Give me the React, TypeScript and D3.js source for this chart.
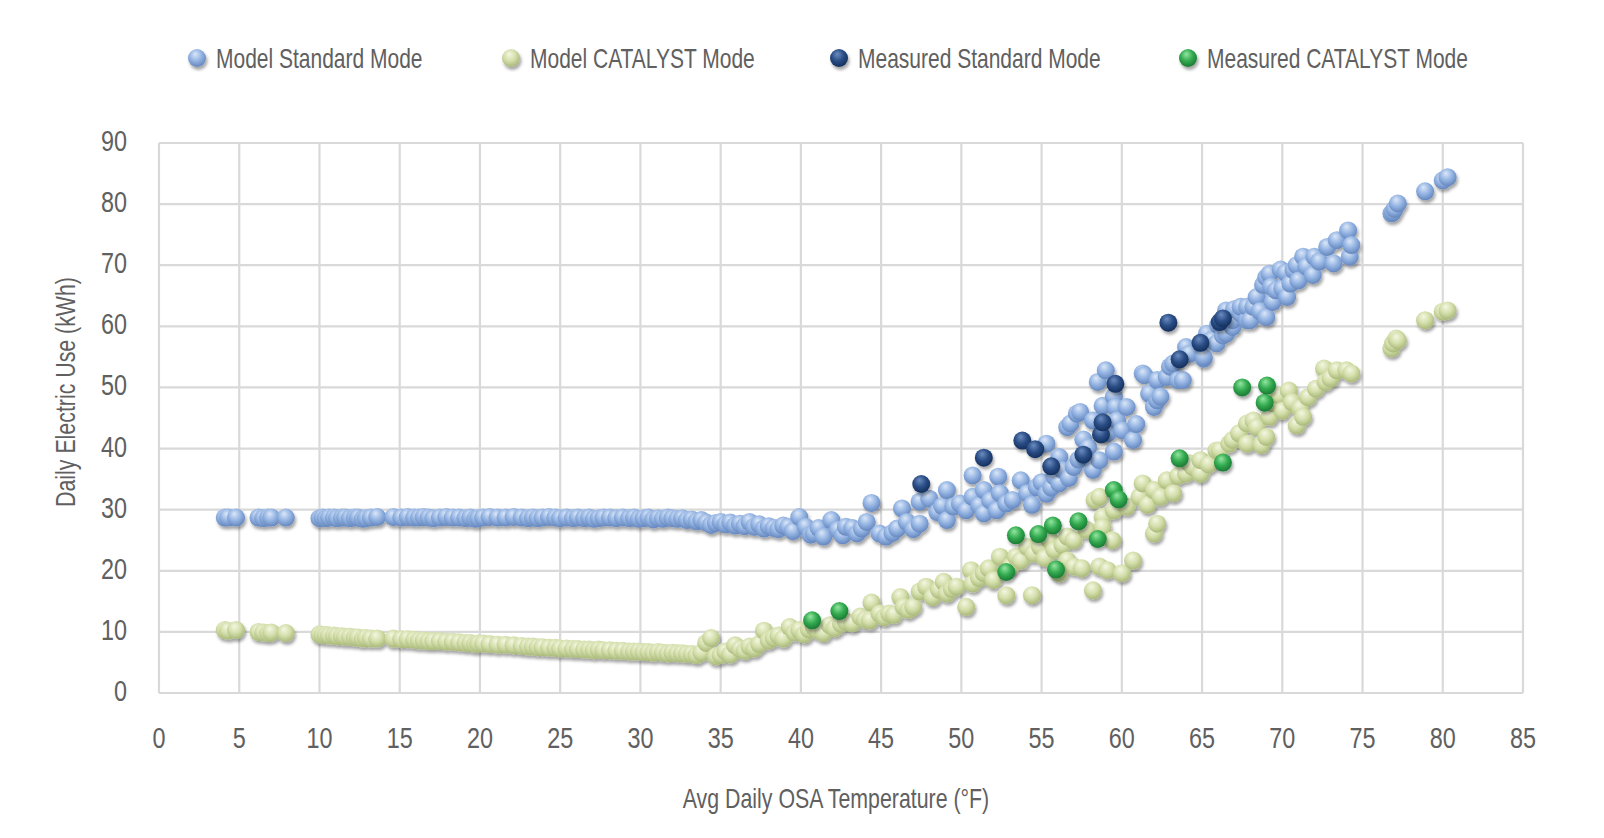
import * as d3 from "d3";

// [Avg daily OSA temperature (°F), daily electric use (kWh)]
const modelStandard: [number, number][] = [
  [4.1, 28.7], [4.3, 28.7], [4.8, 28.7], [6.2, 28.7], [6.5, 28.6], [6.8, 28.7], [7.0, 28.7], [7.9, 28.7],
  [10.0, 28.6], [10.2, 28.7], [10.4, 28.6], [10.6, 28.7], [10.9, 28.7], [11.1, 28.6], [11.4, 28.7], [11.6, 28.7],
  [11.9, 28.6], [12.2, 28.7], [12.4, 28.7], [12.7, 28.5], [12.9, 28.6], [13.2, 28.7], [13.6, 28.8],
  [14.6, 28.8], [15.1, 28.7], [15.5, 28.8], [15.9, 28.7], [16.2, 28.7], [16.5, 28.8], [16.8, 28.7], [17.1, 28.6],
  [17.5, 28.7], [17.9, 28.8], [18.3, 28.7], [18.7, 28.7], [19.1, 28.6], [19.4, 28.7], [19.7, 28.5], [19.9, 28.6],
  [20.2, 28.7], [20.6, 28.8], [21.1, 28.7], [21.6, 28.7], [22.1, 28.8], [22.6, 28.7], [23.0, 28.6], [23.3, 28.7],
  [23.6, 28.6], [23.9, 28.7], [24.3, 28.8], [24.7, 28.7], [25.0, 28.6], [25.4, 28.7], [25.8, 28.6], [26.1, 28.7],
  [26.5, 28.6], [26.8, 28.7], [27.1, 28.5], [27.4, 28.6], [27.7, 28.7], [28.1, 28.7], [28.5, 28.6], [28.9, 28.7],
  [29.3, 28.6], [29.6, 28.7], [29.9, 28.5], [30.2, 28.6], [30.5, 28.7], [30.8, 28.4], [31.1, 28.6], [31.4, 28.5],
  [31.7, 28.7], [32.0, 28.6], [32.3, 28.5], [32.6, 28.6], [32.9, 28.3], [33.2, 28.4], [33.5, 28.1], [33.8, 28.3],
  [34.1, 27.9], [34.4, 27.5], [34.7, 27.8], [35.0, 28.0], [35.3, 27.6], [35.6, 27.9], [35.9, 27.4], [36.2, 27.7],
  [36.5, 27.3], [36.8, 28.0], [37.1, 27.2], [37.4, 27.6], [37.7, 26.9], [38.0, 27.3], [38.3, 27.0], [38.6, 26.8],
  [38.9, 27.4], [39.2, 27.2], [39.5, 26.5], [39.9, 28.8], [40.3, 27.2], [40.6, 25.9], [40.8, 26.1], [41.1, 27.0],
  [41.4, 25.6], [41.9, 28.3], [42.3, 26.7], [42.6, 25.8], [42.8, 27.2], [43.2, 27.0], [43.5, 26.1], [43.8, 26.9],
  [44.1, 28.0], [44.4, 31.1], [44.9, 26.1], [45.3, 25.6], [45.7, 26.2], [46.0, 26.9], [46.3, 30.2], [46.6, 28.0],
  [47.0, 26.8], [47.4, 27.7], [47.4, 31.3], [48.0, 31.8], [48.5, 29.6], [48.8, 30.6], [49.1, 33.2], [49.1, 28.3],
  [49.5, 30.5], [49.9, 31.0], [50.3, 29.9], [50.7, 35.6], [50.7, 32.1], [51.1, 30.7], [51.4, 29.4], [51.4, 33.2],
  [51.8, 31.5], [52.2, 29.9], [52.3, 35.4], [52.4, 32.7], [52.8, 31.0], [53.2, 31.6], [53.7, 34.8], [54.1, 32.7],
  [54.4, 30.8], [54.7, 33.7], [55.0, 34.5], [55.3, 40.8], [55.3, 32.6], [55.6, 33.6], [55.8, 35.4], [56.1, 34.3],
  [56.1, 38.6], [56.3, 36.5], [56.6, 43.5], [56.7, 35.2], [56.8, 44.1], [57.0, 37.0], [57.2, 45.7], [57.3, 38.2],
  [57.4, 46.0], [57.6, 41.5], [57.9, 40.2], [58.2, 36.5], [58.2, 44.6], [58.5, 50.9], [58.6, 38.1], [58.8, 47.0],
  [59.0, 52.8], [59.1, 42.5], [59.5, 48.5], [59.5, 39.5], [59.6, 46.8], [59.7, 44.6], [60.0, 43.0], [60.3, 46.8],
  [60.7, 41.4], [60.9, 44.0], [61.3, 52.3], [61.4, 52.0], [61.7, 49.0], [62.0, 46.8], [62.2, 47.9], [62.2, 51.2],
  [62.4, 48.5], [62.8, 51.7], [63.0, 53.4], [63.2, 53.9], [63.5, 51.2], [63.8, 51.2], [64.0, 56.6], [64.2, 55.5],
  [65.1, 54.7], [65.1, 55.0], [65.3, 58.8], [65.6, 57.8], [65.9, 57.2], [66.0, 60.2], [66.3, 58.5], [66.5, 58.8],
  [66.5, 62.6], [66.9, 59.9], [66.9, 61.0], [67.0, 62.8], [67.4, 62.1], [67.4, 63.2], [67.8, 61.0], [67.8, 63.2],
  [68.0, 61.0], [68.2, 63.2], [68.4, 64.8], [68.6, 62.5], [68.8, 66.8], [69.0, 61.5], [69.0, 68.0], [69.2, 68.6],
  [69.3, 66.5], [69.4, 64.0], [69.6, 65.9], [69.9, 69.3], [70.0, 66.2], [70.2, 68.8], [70.3, 64.8], [70.5, 67.0],
  [70.7, 69.2], [70.9, 70.0], [71.0, 67.5], [71.3, 71.4], [71.5, 69.8], [71.9, 68.4], [72.0, 71.4], [72.3, 70.6],
  [72.8, 73.0], [73.2, 70.3], [73.4, 74.1], [74.1, 75.7], [74.2, 71.4], [74.3, 73.3], [76.8, 78.5], [76.9, 78.7],
  [77.0, 79.2], [77.2, 80.1], [78.9, 82.1], [80.0, 83.9], [80.3, 84.4],
];

const modelCatalyst: [number, number][] = [
  [4.1, 10.3], [4.3, 10.2], [4.8, 10.3], [6.2, 10.0], [6.5, 9.9], [6.8, 9.8], [7.0, 9.9], [7.9, 9.8],
  [10.0, 9.6], [10.2, 9.5], [10.4, 9.5], [10.6, 9.4], [10.9, 9.4], [11.1, 9.3], [11.4, 9.3], [11.6, 9.2],
  [11.9, 9.2], [12.2, 9.1], [12.4, 9.1], [12.7, 8.9], [12.9, 9.0], [13.2, 8.9], [13.6, 8.9],
  [14.6, 8.9], [15.1, 8.8], [15.5, 8.8], [15.9, 8.7], [16.2, 8.6], [16.5, 8.6], [16.8, 8.5], [17.1, 8.5],
  [17.5, 8.5], [17.9, 8.4], [18.3, 8.4], [18.7, 8.3], [19.1, 8.2], [19.4, 8.2], [19.7, 8.0], [19.9, 8.1],
  [20.2, 8.1], [20.6, 8.0], [21.1, 7.9], [21.6, 7.9], [22.1, 7.8], [22.6, 7.7], [23.0, 7.6], [23.3, 7.6],
  [23.6, 7.5], [23.9, 7.5], [24.3, 7.4], [24.7, 7.4], [25.0, 7.3], [25.4, 7.3], [25.8, 7.2], [26.1, 7.2],
  [26.5, 7.1], [26.8, 7.1], [27.1, 7.0], [27.4, 7.1], [27.7, 7.0], [28.1, 7.0], [28.5, 6.9], [28.9, 6.9],
  [29.3, 6.8], [29.6, 6.8], [29.9, 6.8], [30.2, 6.7], [30.5, 6.7], [30.8, 6.6], [31.1, 6.7], [31.4, 6.6],
  [31.7, 6.5], [32.0, 6.6], [32.3, 6.5], [32.6, 6.5], [32.9, 6.4], [33.2, 6.4], [33.5, 6.2], [33.8, 6.6],
  [34.1, 8.2], [34.4, 9.0], [34.7, 6.0], [35.0, 6.2], [35.3, 6.8], [35.6, 6.3], [35.9, 7.8], [36.2, 7.2],
  [36.5, 6.9], [36.8, 7.6], [37.1, 7.3], [37.4, 8.0], [37.7, 10.2], [38.0, 8.6], [38.3, 9.0], [38.6, 9.4],
  [38.9, 8.9], [39.3, 10.8], [39.6, 9.9], [39.9, 10.3], [40.2, 9.6], [40.5, 10.4], [40.8, 10.8], [41.1, 10.2],
  [41.4, 9.8], [41.8, 11.1], [42.1, 10.6], [42.5, 11.3], [42.8, 11.7], [43.2, 11.4], [43.7, 12.5], [44.0, 12.0],
  [44.3, 11.9], [44.4, 14.8], [44.9, 13.0], [45.2, 12.4], [45.5, 13.0], [45.8, 12.8], [46.2, 15.7], [46.4, 14.1],
  [46.7, 13.6], [47.0, 14.1], [47.4, 16.6], [47.8, 17.4], [48.2, 15.7], [48.6, 16.9], [48.9, 18.2], [49.1, 16.3],
  [49.4, 17.0], [49.7, 17.4], [50.3, 14.1], [50.6, 20.1], [50.7, 17.9], [51.1, 18.8], [51.4, 19.6], [51.7, 20.4],
  [52.0, 18.5], [52.4, 22.3], [52.8, 16.0], [53.1, 20.8], [53.4, 22.3], [53.7, 21.7], [54.1, 23.9], [54.4, 16.0],
  [54.5, 22.8], [54.9, 23.9], [55.2, 22.1], [55.5, 25.0], [55.8, 23.4], [56.1, 19.6], [56.3, 24.2], [56.6, 25.6],
  [56.6, 21.7], [57.0, 25.0], [57.0, 20.7], [57.5, 20.4], [57.8, 26.7], [58.2, 16.8], [58.3, 31.6], [58.6, 20.7],
  [58.6, 32.1], [58.8, 28.8], [58.8, 27.1], [59.1, 20.1], [59.4, 25.0], [59.5, 29.9], [60.0, 19.6], [60.3, 30.5],
  [60.7, 21.7], [61.1, 32.1], [61.3, 34.3], [61.6, 30.8], [62.0, 33.2], [62.0, 26.1], [62.2, 27.7], [62.4, 32.1],
  [62.8, 34.8], [63.2, 32.7], [63.5, 35.5], [64.0, 35.9], [64.2, 37.6], [64.4, 37.0], [64.9, 35.9], [64.9, 38.1],
  [65.4, 37.4], [65.9, 39.7], [66.1, 39.7], [66.7, 40.8], [66.9, 41.4], [67.3, 42.5], [67.8, 40.8], [67.8, 44.1],
  [68.2, 44.6], [68.4, 43.5], [68.7, 40.6], [69.0, 41.9], [69.2, 45.2], [69.4, 47.4], [69.8, 48.7], [70.0, 46.2],
  [70.4, 49.5], [70.6, 47.6], [70.9, 43.8], [71.1, 46.6], [71.3, 45.2], [71.6, 48.4], [72.1, 49.8], [72.6, 53.1],
  [72.7, 50.9], [73.0, 51.5], [73.4, 52.8], [74.0, 52.8], [74.3, 52.3], [76.8, 56.4], [76.9, 57.2], [77.1, 58.0],
  [77.2, 57.7], [78.9, 61.0], [80.0, 62.4], [80.3, 62.6],
];

const measuredStandard: [number, number][] = [
  [47.5, 34.2], [51.4, 38.5], [53.8, 41.3], [54.6, 39.9], [55.6, 37.1], [57.6, 39.0], [58.7, 42.3],
  [58.8, 44.3], [59.6, 50.6], [62.9, 60.6], [63.6, 54.6], [64.9, 57.3], [66.1, 60.7], [66.3, 61.3],
];

const measuredCatalyst: [number, number][] = [
  [40.7, 11.9], [42.4, 13.4], [52.8, 19.8], [53.4, 25.8], [54.8, 26.0], [55.7, 27.4], [55.9, 20.2],
  [57.3, 28.1], [58.5, 25.2], [59.5, 33.2], [59.8, 31.7], [63.6, 38.4], [66.3, 37.7], [67.5, 50.0],
  [68.9, 47.5], [69.05, 50.3],
];

const xTicks = d3.range(0, 86, 5);
const yTicks = d3.range(0, 91, 10);

const seriesNames = ["Model Standard Mode", "Model CATALYST Mode", "Measured Standard Mode", "Measured CATALYST Mode"];
const seriesData = [modelStandard, modelCatalyst, measuredStandard, measuredCatalyst];

// highlight, base, rim
const seriesColors = [
  ["#dbe7f8", "#93b3e2", "#6486bd"],
  ["#f4f7e2", "#d3deaa", "#a8b878"],
  ["#6b8cc0", "#2a4d85", "#142f5c"],
  ["#93e6a0", "#33aa50", "#1a7a33"],
];

const legendX = [197, 511, 839, 1188];

const W = 1604;
const H = 838;
const margin = { top: 143, right: 81, bottom: 145, left: 159 };
// no condensed face installed, so squeeze a regular one horizontally
const FONT = "'Liberation Sans', Arial, sans-serif";
const TEXT = "#606060";
const R = 9;

function Label({ x, y, sx, size, anchor = "start", rotate = 0, children }: any) {
  return (
    <text
      transform={`translate(${x},${y}) rotate(${rotate}) scale(${sx},1)`}
      textAnchor={anchor}
      fontFamily={FONT}
      fontSize={size}
      fill={TEXT}
    >
      {children}
    </text>
  );
}

export default function App() {
  const x = d3.scaleLinear().domain([0, 85]).range([margin.left, W - margin.right]);
  const y = d3.scaleLinear().domain([0, 90]).range([H - margin.bottom, margin.top]);

  return (
    <div style={{ position: "fixed", left: 0, top: 0, width: W, height: H, background: "#fff" }}>
      <svg width={W} height={H} style={{ display: "block" }}>
        <defs>
          {seriesColors.map((c, i) => (
            <radialGradient key={i} id={`ball${i}`} cx="45%" cy="38%" r="62%" fx="40%" fy="28%">
              <stop offset="0%" stopColor={c[0]} />
              <stop offset="55%" stopColor={c[1]} />
              <stop offset="100%" stopColor={c[2]} />
            </radialGradient>
          ))}
          <filter id="shadow" x="-50%" y="-50%" width="200%" height="200%">
            <feDropShadow dx="1.5" dy="3" stdDeviation="1.8" floodColor="#000" floodOpacity="0.35" />
          </filter>
        </defs>

        {/* Gridlines */}
        <g stroke="#d9d9d9" strokeWidth={2.2}>
          {xTicks.map((t) => (
            <line key={`gx${t}`} x1={x(t)} x2={x(t)} y1={y(0)} y2={y(90)} />
          ))}
          {yTicks.map((t) => (
            <line key={`gy${t}`} x1={x(0)} x2={x(85)} y1={y(t)} y2={y(t)} />
          ))}
        </g>

        {/* Tick labels */}
        {xTicks.map((t) => (
          <Label key={`tx${t}`} x={x(t)} y={y(0) + 55} sx={0.78} size={30} anchor="middle">
            {t}
          </Label>
        ))}
        {yTicks.map((t) => (
          <Label key={`ty${t}`} x={127} y={y(t) + 8} sx={0.78} size={30} anchor="end">
            {t}
          </Label>
        ))}

        {/* Axis titles */}
        <Label x={836} y={808} sx={0.79} size={27} anchor="middle">
          Avg Daily OSA Temperature (°F)
        </Label>
        <Label x={75} y={392} sx={0.79} size={27} anchor="middle" rotate={-90}>
          Daily Electric Use (kWh)
        </Label>

        {/* Points */}
        {seriesData.map((pts, i) => (
          <g key={`s${i}`} filter="url(#shadow)">
            {pts.map((d, j) => (
              <circle key={j} cx={x(d[0])} cy={y(d[1])} r={R} fill={`url(#ball${i})`} />
            ))}
          </g>
        ))}

        {/* Legend */}
        {seriesNames.map((name, i) => (
          <g key={name}>
            <circle cx={legendX[i]} cy={58} r={R} fill={`url(#ball${i})`} filter="url(#shadow)" />
            <Label x={legendX[i] + 19} y={68} sx={0.75} size={28}>
              {name}
            </Label>
          </g>
        ))}
      </svg>
    </div>
  );
}
